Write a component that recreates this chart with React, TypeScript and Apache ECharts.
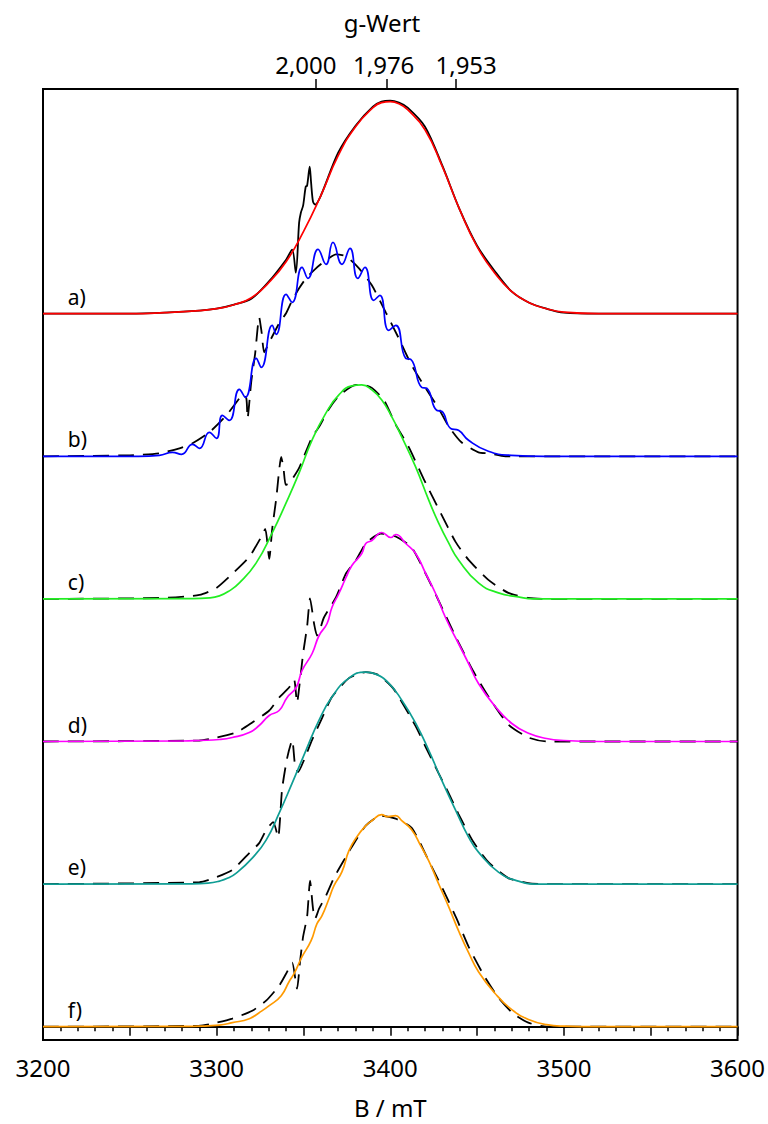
import React, { useEffect, useRef } from "react";
import * as echarts from "echarts";

// ---- axis data ----
const xMin = 3200;
const xMax = 3600;
const xLabelValues = [3200, 3300, 3400, 3500, 3600];
const gTicks = [2.0, 1.976, 1.953];
const gTimesB = 6714.3; // g * B (constant microwave frequency)
const traceLabels = ["a)", "b)", "c)", "d)", "e)", "f)"];
const offsetStep = 142.6;
const offsets = [5, 4, 3, 2, 1, 0];
const yMin = -13.3;
const yMax = 937.7;

// ---- spectra: [B (mT), intensity (a.u.)] ----
const expA = [
  [3200, 0], [3250, 0], [3270, 1], [3290, 3], [3300, 5], [3310, 9], [3320, 15], [3330, 32],
  [3340, 54], [3343.5, 64], [3345.6, 41], [3347.5, 91], [3348.5, 101], [3349.8, 108],
  [3351.3, 127], [3352.1, 128], [3353.6, 147], [3354.4, 131], [3355.5, 112], [3356.7, 109],
  [3360, 118], [3370, 161], [3380, 188], [3390, 207], [3395, 212], [3400, 213], [3405, 211],
  [3410, 206], [3420, 187], [3430, 148], [3440, 104], [3450, 68], [3460, 43], [3470, 22],
  [3480, 11], [3490, 5], [3500, 1], [3520, 0], [3600, 0],
];
const fitA = [
  [3200, 0], [3250, 0], [3270, 1], [3290, 3], [3300, 5], [3310, 9], [3320, 16], [3330, 31],
  [3340, 52], [3350, 82], [3360, 118], [3370, 158], [3380, 187], [3390, 206], [3395, 211],
  [3400, 212], [3405, 210], [3410, 204], [3420, 184], [3430, 147], [3440, 104], [3450, 67],
  [3460, 41], [3470, 22], [3480, 11], [3490, 5], [3500, 1.5], [3520, 0], [3600, 0],
];
const expB = [
  [3200, 0], [3250, 1], [3267, 3], [3278.6, 8], [3286.1, 13], [3295.8, 24], [3305.6, 41],
  [3313.1, 58], [3314.8, 62], [3317.1, 58], [3317.8, 38], [3319.9, 74], [3322.2, 103],
  [3324.5, 139], [3325.9, 124], [3327.4, 104], [3330.3, 114], [3336, 133], [3340, 143],
  [3343.5, 156], [3347.5, 168], [3351.5, 178], [3357.2, 188], [3363, 196], [3368.7, 202],
  [3374.5, 200], [3382, 188], [3389.4, 171], [3397.4, 144], [3404.9, 118], [3412.3, 91],
  [3420.4, 68], [3427.8, 48], [3433.6, 30], [3441, 14], [3450.8, 4], [3456.5, 3],
  [3466.3, 0], [3600, 0],
];
const fitB = [
  [3200, 0], [3255, 0], [3267, 1], [3274.6, 4], [3279.8, 2], [3286.1, 12], [3290.1, 8],
  [3295.8, 24], [3299.9, 18], [3303.3, 41], [3307.3, 36], [3313.1, 67], [3316.5, 59],
  [3322.8, 98], [3325.7, 89], [3332, 131], [3334.3, 122], [3340, 162], [3343.5, 154],
  [3349.2, 189], [3352.6, 178], [3358.4, 207], [3363, 192], [3367, 214], [3372.2, 192],
  [3376.8, 208], [3381.3, 178], [3385.4, 189], [3390.5, 156], [3394, 161], [3399.1, 126],
  [3403.2, 131], [3408.9, 98], [3411.8, 97], [3418.1, 69], [3421, 68], [3426.7, 46],
  [3429.6, 45], [3434.7, 28], [3439.3, 26], [3445.1, 16], [3456.5, 5], [3469.7, 1],
  [3489, 0], [3600, 0],
];
const expC = [
  [3200, 0], [3270, 1], [3290.1, 4], [3299.9, 11], [3309, 25], [3318.8, 42], [3325.7, 62],
  [3328, 70], [3330.3, 40], [3332, 70], [3334.3, 100], [3337.2, 142], [3338.5, 131],
  [3339.8, 114], [3342, 116], [3347.5, 131], [3355, 162], [3359, 172], [3364.7, 190],
  [3370.4, 203], [3380.2, 214], [3384.8, 214], [3389.4, 211], [3396.3, 199], [3403.2, 174],
  [3410.6, 152], [3419.2, 120], [3429, 86], [3437.6, 57], [3445.1, 39], [3456.5, 19],
  [3468, 6], [3479.5, 1], [3490, 0], [3600, 0],
];
const fitC = [
  [3200, 0], [3285, 0.3], [3296, 1], [3301.6, 3], [3307.3, 8], [3313.1, 16], [3322.8, 36],
  [3332, 66], [3340, 96], [3347.5, 126], [3355, 159], [3363, 186], [3370.4, 204],
  [3377.9, 213], [3383.6, 214], [3389.4, 209], [3395.1, 199], [3400.9, 182], [3406.6, 162],
  [3414.6, 132], [3422.1, 99], [3427.8, 76], [3433.6, 56], [3439.3, 39], [3450.8, 16],
  [3462.3, 6], [3473.7, 2], [3482.4, 0], [3600, 0],
];
const expD = [
  [3200, 0], [3290.1, 1], [3299.9, 4], [3311.3, 9], [3320.5, 19], [3330.3, 31], [3336, 44],
  [3341.7, 54], [3344.6, 62], [3346.3, 39], [3348.1, 62], [3349.8, 88], [3352.1, 115],
  [3353.8, 143], [3356.1, 118], [3357.8, 106], [3359.5, 112], [3361.8, 124], [3368.7, 144],
  [3374.5, 168], [3380.2, 181], [3385.9, 198], [3394.5, 208], [3403.1, 205], [3412.3, 194],
  [3420.9, 166], [3427.8, 141], [3432.4, 124], [3439.3, 99], [3447.9, 70], [3456.5, 45],
  [3468, 17], [3479.5, 4], [3490, 0], [3600, 0],
];
const fitD = [
  [3200, 0], [3280, 0.5], [3290.1, 1], [3301.6, 2], [3309, 4], [3318.8, 9], [3324.5, 16],
  [3330.3, 26], [3336, 31], [3340.6, 44], [3345.8, 54], [3349.2, 71], [3355, 88],
  [3359, 106], [3363.6, 118], [3366.4, 134], [3370.4, 148], [3374.5, 164], [3377.9, 176],
  [3383.6, 188], [3385.9, 198], [3389.4, 201], [3395.1, 209], [3400.3, 204], [3403.2, 207],
  [3408.9, 198], [3414.6, 188], [3420.4, 168], [3426.1, 148], [3431.8, 124], [3439.3, 98],
  [3445.1, 78], [3450.8, 58], [3460, 36], [3470, 18], [3480, 8], [3490, 3], [3500, 1],
  [3520, 0], [3600, 0],
];
const expE = [
  [3200, 0], [3290.1, 2], [3299.9, 7], [3309, 14], [3318.8, 31], [3324.5, 41], [3328.5, 54],
  [3332.6, 62], [3335.4, 47], [3337.7, 95], [3340.6, 126], [3343.5, 144], [3345.2, 118],
  [3346.9, 112], [3350.3, 124], [3354.9, 144], [3360.7, 166], [3366.4, 187], [3376.2, 206],
  [3385.9, 212], [3393.4, 209], [3402, 195], [3414.6, 158], [3420.4, 137], [3427.8, 111],
  [3433.6, 91], [3439.3, 70], [3447.9, 42], [3456.5, 22], [3468, 6], [3479.5, 1],
  [3490, 0], [3600, 0],
];
const fitE = [
  [3200, 0], [3285, 0.3], [3295, 1], [3301.6, 3], [3306.5, 6], [3311.3, 11], [3320.5, 26],
  [3328.5, 44], [3336, 71], [3343.5, 101], [3351.5, 134], [3359, 164], [3366.4, 187],
  [3376.2, 206], [3385.9, 212], [3391.6, 210], [3399.1, 201], [3406.6, 184], [3414.6, 161],
  [3422.1, 134], [3429.6, 104], [3437.6, 74], [3445.1, 47], [3450.8, 32], [3462.3, 12],
  [3473.7, 3], [3485.2, 0], [3600, 0],
];
const expF = [
  [3200, 0], [3290.1, 1], [3299.9, 4], [3309, 8], [3320.5, 16], [3328.5, 26], [3336, 41],
  [3340, 53], [3343.5, 64], [3346.3, 38], [3348.1, 66], [3349.8, 90], [3352.1, 110],
  [3353.8, 146], [3355.5, 118], [3356.7, 108], [3359, 118], [3363, 131], [3367.6, 149],
  [3374.5, 170], [3377.9, 180], [3385.9, 201], [3394.5, 211], [3403.1, 208], [3412.3, 199],
  [3422.1, 166], [3430.7, 136], [3438.2, 108], [3445.1, 80], [3453.7, 52], [3462.3, 29],
  [3470.9, 13], [3479.5, 4], [3490, 0], [3600, 0],
];
const fitF = [
  [3200, 0], [3280, 0.3], [3290.1, 0.5], [3301.6, 1.5], [3309, 4], [3318.8, 8], [3324.5, 14],
  [3330.3, 21], [3337.2, 31], [3341.7, 45], [3344.6, 53], [3349.2, 70], [3354.4, 86],
  [3357.8, 103], [3360.7, 111], [3364.7, 128], [3367.6, 141], [3372.2, 155], [3376.2, 176],
  [3380.8, 190], [3385.9, 201], [3389.4, 206], [3395.1, 212], [3398.6, 210], [3403.1, 211],
  [3406.6, 206], [3412.3, 197], [3417.5, 181], [3422.1, 166], [3427.8, 143], [3433.6, 120],
  [3439.3, 96], [3445.1, 74], [3450.8, 55], [3460, 34], [3470, 17], [3480, 7], [3490, 2],
  [3500, 0.5], [3520, 0], [3600, 0],
];

const expData = [expA, expB, expC, expD, expE, expF];
const fitData = [fitA, fitB, fitC, fitD, fitE, fitF];
const fitColors = ["#ff0000", "#0000ff", "#22ee22", "#ff00ff", "#0f9d94", "#ff9a00"];
const expDashed = [false, true, true, true, true, true];

const FONT = "'Noto Sans', 'Open Sans', sans-serif";
const labelB = 3214;
const labelLift = 17;

export default function App() {
  const ref = useRef<HTMLDivElement>(null);
  useEffect(() => {
    if (!ref.current) return;
    const chart = echarts.init(ref.current, undefined, { renderer: "svg" });
    const gPositions = gTicks.map((g) => gTimesB / g);
    const series: any[] = [];
    expData.forEach((d, i) => {
      const off = offsets[i] * offsetStep;
      series.push({
        type: "line",
        name: "exp " + traceLabels[i],
        data: d.map(([b, v]) => [b, v + off]),
        showSymbol: false,
        smooth: expDashed[i] ? 0.2 : 0.3,
        lineStyle: {
          color: "#000",
          width: 1.8,
          type: expDashed[i] ? [16, 9] : "solid",
        },
        z: 2,
      });
    });
    fitData.forEach((d, i) => {
      const off = offsets[i] * offsetStep;
      series.push({
        type: "line",
        name: "fit " + traceLabels[i],
        data: d.map(([b, v]) => [b, v + off]),
        showSymbol: false,
        smooth: 0.5,
        lineStyle: { color: fitColors[i], width: 1.7 },
        z: 3,
      });
    });
    series.push({
      type: "scatter",
      name: "labels",
      symbol: "circle",
      symbolSize: 1,
      itemStyle: { color: "#ffffff", opacity: 1 },
      emphasis: { disabled: true },
      data: traceLabels.map((t, i) => ({
        value: [labelB, offsets[i] * offsetStep + labelLift],
        label: {
          show: true,
          formatter: t,
          position: "right",
          distance: 0,
          fontSize: 21,
          fontFamily: FONT,
          color: "#000000",
          opacity: 1,
          verticalAlign: "middle",
        },
      })),
      z: 4,
    });
    chart.setOption({
      animation: false,
      backgroundColor: "#fff",
      grid: {
        left: 43,
        right: 28,
        top: 89,
        bottom: 84,
        show: true,
        borderColor: "#000",
        borderWidth: 2,
        backgroundColor: "transparent",
      },
      graphic: [
        {
          type: "text",
          x: 382,
          y: 22,
          style: {
            text: "g-Wert",
            fontSize: 24,
            fontFamily: FONT,
            fill: "#000",
            textAlign: "center",
            textVerticalAlign: "middle",
          },
        },
      ],
      xAxis: [
        {
          type: "value",
          position: "bottom",
          min: xMin,
          max: xMax,
          interval: 50,
          name: "B / mT",
          nameLocation: "middle",
          nameGap: 55,
          nameTextStyle: { fontSize: 24, fontFamily: FONT, color: "#000" },
          axisLine: { show: true, lineStyle: { color: "#000", width: 2 } },
          axisTick: { show: true, length: 9, lineStyle: { color: "#000", width: 1.5 } },
          minorTick: {
            show: true,
            splitNumber: 5,
            length: 4.5,
            lineStyle: { color: "#000", width: 1.5 },
          },
          axisLabel: {
            customValues: xLabelValues,
            fontSize: 24,
            fontFamily: FONT,
            color: "#000",
            margin: 15,
            formatter: (v: number) => String(v),
          },
          splitLine: { show: false },
          minorSplitLine: { show: false },
        },
        {
          type: "value",
          position: "top",
          min: xMin,
          max: xMax,
          axisLine: { show: true, lineStyle: { color: "#000", width: 2 } },
          axisTick: {
            show: true,
            customValues: gPositions,
            length: 10,
            lineStyle: { color: "#000", width: 1.5 },
          },
          axisLabel: {
            customValues: gPositions,
            fontSize: 24,
            fontFamily: FONT,
            color: "#000",
            margin: 13,
            formatter: (v: number) => {
              let best = 0;
              gPositions.forEach((p, i) => {
                if (Math.abs(p - v) < Math.abs(gPositions[best] - v)) best = i;
              });
              const txt = gTicks[best].toFixed(3).replace(".", ",");
              const style = best === 0 ? "l" : best === gTicks.length - 1 ? "r" : "m";
              return "{" + style + "|" + txt + "}";
            },
            rich: {
              l: { fontSize: 24, fontFamily: FONT, color: "#000", padding: [0, 20, 0, 0] },
              m: { fontSize: 24, fontFamily: FONT, color: "#000", padding: [0, 6, 0, 0] },
              r: { fontSize: 24, fontFamily: FONT, color: "#000", padding: [0, 0, 0, 20] },
            },
          },
          splitLine: { show: false },
        },
      ],
      yAxis: {
        type: "value",
        min: yMin,
        max: yMax,
        show: false,
        splitLine: { show: false },
      },
      series,
    });
    return () => chart.dispose();
  }, []);
  return (
    <div
      ref={ref}
      style={{ position: "absolute", left: 0, top: 0, width: 768, height: 1124 }}
    />
  );
}
